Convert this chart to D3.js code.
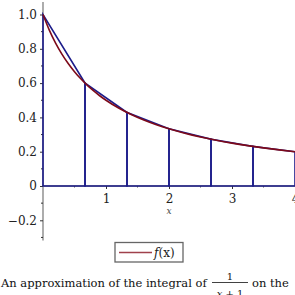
<!DOCTYPE html>
<html><head><meta charset="utf-8">
<script src="https://cdn.jsdelivr.net/npm/d3@7"></script>
<style>body{margin:0;background:#fff}svg{display:block}</style>
</head><body>
<svg id="c" width="295" height="295"></svg>
<script>
// Data
const xNodes = [0, 2/3, 4/3, 2, 8/3, 10/3, 4];          // trapezoid partition points
const fNodes = [1.0, 0.6, 0.4286, 0.3333, 0.2727, 0.2308, 0.2]; // f at partition points
const curveX = [0,0.1,0.2,0.3,0.4,0.5,0.6,0.7,0.8,0.9,1,1.2,1.4,1.6,1.8,2,2.25,2.5,2.75,3,3.25,3.5,3.75,4];
const curveY = [1,0.9091,0.8333,0.7692,0.7143,0.6667,0.625,0.5882,0.5556,0.5263,0.5,0.4545,0.4167,0.3846,0.3571,0.3333,0.3077,0.2857,0.2667,0.25,0.2353,0.2222,0.2105,0.2];
const xTicks = [1, 2, 3, 4];
const xMinor = [0.5, 1.5, 2.5, 3.5];
const yTicks = [-0.2, 0, 0.2, 0.4, 0.6, 0.8, 1.0];
const yTickLabels = ["\u22120.2", "0", "0.2", "0.4", "0.6", "0.8", "1.0"];
const yMinor = [-0.3,-0.1,0.1,0.3,0.5,0.7,0.9];
const legendLabel = "f(x)";

const svg = d3.select("#c");
const x = d3.scaleLinear().domain([0, 4]).range([43, 295]);
const y = d3.scaleLinear().domain([0, 1]).range([186, 14.5]);
const serif = "DejaVu Serif";
const navy = "#1c1c8a", maroon = "#7d0a1a";

// axes lines (gray)
svg.append("line").attr("x1", x(0)).attr("x2", x(0)).attr("y1", y(1.073)).attr("y2", y(-0.318))
  .attr("stroke", "#808080").attr("stroke-width", 1.3);
svg.append("line").attr("x1", x(0)-1).attr("x2", x(4)).attr("y1", y(0)).attr("y2", y(0))
  .attr("stroke", "#808080").attr("stroke-width", 1.3);

// y ticks
const yAxis = d3.axisLeft(y).tickValues(yTicks).tickSize(3).tickPadding(3)
  .tickFormat((d,i) => yTickLabels[i]);
const gy = svg.append("g").attr("transform", `translate(${x(0)},0)`).call(yAxis);
gy.select(".domain").remove();
gy.selectAll(".tick line").attr("stroke", "#333").attr("stroke-width", 1);
gy.selectAll(".tick text").attr("font-family", serif).attr("font-size", 12).attr("fill", "#222");
svg.append("g").selectAll("line").data(yMinor).join("line")
  .attr("x1", x(0)-2).attr("x2", x(0)).attr("y1", d => y(d)).attr("y2", d => y(d))
  .attr("stroke", "#333").attr("stroke-width", 1);

// x ticks
const xAxis = d3.axisBottom(x).tickValues(xTicks).tickSize(3).tickPadding(5).tickFormat(d3.format("d"));
const gx = svg.append("g").attr("transform", `translate(0,${y(0)})`).call(xAxis);
gx.select(".domain").remove();
gx.selectAll(".tick line").attr("stroke", "#333").attr("stroke-width", 1);
gx.selectAll(".tick text").attr("font-family", serif).attr("font-size", 12).attr("fill", "#222");
svg.append("g").selectAll("line").data(xMinor).join("line")
  .attr("x1", d => x(d)).attr("x2", d => x(d)).attr("y1", y(0)).attr("y2", y(0)+1.5)
  .attr("stroke", "#555").attr("stroke-width", 1);

svg.append("text").attr("x", x(2)).attr("y", 214).attr("text-anchor", "middle")
  .attr("font-family", serif).attr("font-style", "italic").attr("font-size", 9).attr("fill", "#444").text("x");

// trapezoids
const pts = xNodes.map((d, i) => [d, fNodes[i]]);
for (let i = 0; i < pts.length - 1; i++) {
  const poly = [[pts[i][0], 0], pts[i], pts[i+1], [pts[i+1][0], 0]];
  svg.append("path").attr("d", d3.line().x(d => x(d[0])).y(d => y(d[1]))(poly) + "Z")
    .attr("fill", "none").attr("stroke", navy).attr("stroke-width", 1.6);
}

// curve
svg.append("path")
  .attr("d", d3.line().curve(d3.curveMonotoneX).x((d) => x(d)).y((d, i) => y(curveY[i]))(curveX))
  .attr("fill", "none").attr("stroke", maroon).attr("stroke-width", 1.6);

// legend
svg.append("rect").attr("x", 115).attr("y", 242.5).attr("width", 68).attr("height", 19.5)
  .attr("fill", "#fff").attr("stroke", "#666").attr("stroke-width", 1.3);
svg.append("line").attr("x1", 119).attr("x2", 152).attr("y1", 252.5).attr("y2", 252.5)
  .attr("stroke", "#a0414b").attr("stroke-width", 1.6);
const lt = svg.append("text").attr("x", 154).attr("y", 257).attr("font-family", serif).attr("font-size", 12).attr("fill", "#222");
lt.append("tspan").attr("font-style", "italic").text(legendLabel.slice(0,1));
lt.append("tspan").text(legendLabel.slice(1));

// caption
const cap = svg.append("text").attr("y", 286.5).attr("font-family", serif).attr("font-size", 11.5).attr("fill", "#111");
cap.append("tspan").attr("x", 1).text("An approximation of the integral of");
svg.append("text").attr("x", 230).attr("y", 279.5).attr("text-anchor", "middle").attr("font-family", serif).attr("font-size", 10).attr("fill", "#111").text("1");
svg.append("line").attr("x1", 212).attr("x2", 248).attr("y1", 282.5).attr("y2", 282.5).attr("stroke", "#111").attr("stroke-width", 0.8);
const den = svg.append("text").attr("x", 230).attr("y", 297).attr("text-anchor", "middle").attr("font-family", serif).attr("font-size", 10).attr("fill", "#111");
den.append("tspan").attr("font-style", "italic").text("x");
den.append("tspan").text(" + 1");
svg.append("text").attr("x", 252).attr("y", 286.5).attr("font-family", serif).attr("font-size", 11.5).attr("fill", "#111").text("on the");
</script>
</body></html>
